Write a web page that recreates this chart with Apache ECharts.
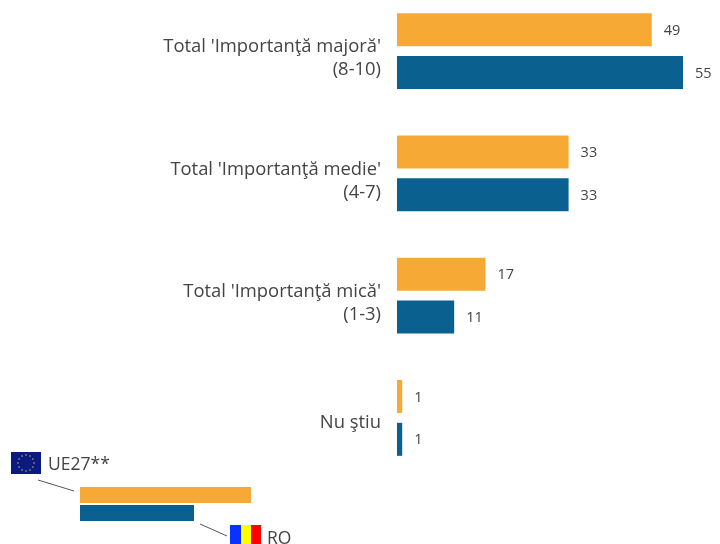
<!DOCTYPE html>
<html><head><meta charset="utf-8">
<style>html,body{margin:0;padding:0;background:#fff;overflow:hidden;width:720px;height:544px}#c{position:absolute;left:0;top:-20px;width:720px;height:564px}</style>
<script src="https://cdn.jsdelivr.net/npm/echarts@6/dist/echarts.min.js"></script>
</head><body><div id="c"></div>
<script>
const categories = ["Total 'Importanţă majoră'\n(8-10)", "Total 'Importanţă medie'\n(4-7)", "Total 'Importanţă mică'\n(1-3)", "Nu ştiu"];
const ue27 = [49, 33, 17, 1];
const ro = [55, 33, 11, 1];
const seriesNames = ["UE27**", "RO"];
const ORANGE = '#F7A935', BLUE = '#0A6190', TXT = '#444444', FONT = '"Open Sans", sans-serif';

const chart = echarts.init(document.getElementById('c'), null, {renderer:'canvas'});
const stars = [];
for (let i = 0; i < 12; i++) {
  const a = i * Math.PI / 6;
  stars.push({type:'circle', shape:{cx:26 + 8*Math.cos(a), cy:463 + 8*Math.sin(a), r:0.8}, style:{fill:'#C8B84A'}});
}
const mkLabel = {show:true, position:'right', distance:12, color:TXT, fontFamily:FONT, fontSize:14.5, offset:[0,1]};
const labelBase = {color:TXT, fontFamily:FONT, fontSize:18.4, align:'right'};
chart.setOption({
  animation:false,
  grid:{left:397, top:10, width:312, height:489, containLabel:false},
  xAxis:{type:'value', min:0, max:60, show:false},
  yAxis:{type:'category', inverse:true, data:categories,
    axisLine:{show:false}, axisTick:{show:false},
    axisLabel:{margin:16, align:'right', color:TXT, fontFamily:FONT, fontSize:18.4,
      formatter:v => {
        const ls = v.split('\n');
        return ls.length > 1 ? '{c|'+ls[0]+'}\n{b|'+ls[1]+'}' : '{a|'+ls[0]+'}';
      },
      rich:{
        a:Object.assign({padding:[10,0,0,0],lineHeight:23},labelBase),
        b:Object.assign({lineHeight:8},labelBase),
        c:Object.assign({lineHeight:38},labelBase)
      }}},
  series:[
    {name:seriesNames[0], type:'bar', data:ue27, barWidth:33, barGap:'30%', itemStyle:{color:ORANGE}, label:mkLabel},
    {name:seriesNames[1], type:'bar', data:ro, barWidth:33, itemStyle:{color:BLUE}, label:mkLabel}
  ],
  graphic:[{type:'group', x:0, y:20, children:[
    {type:'rect', shape:{x:80,y:487,width:171,height:16}, style:{fill:ORANGE}},
    {type:'rect', shape:{x:80,y:505,width:114,height:16}, style:{fill:BLUE}},
    {type:'rect', shape:{x:11,y:452,width:30,height:22}, style:{fill:'#0A1A80'}},
    ...stars,
    {type:'text', x:48, y:456, style:{text:seriesNames[0], fill:TXT, font:'17.5px '+FONT}},
    {type:'line', shape:{x1:38,y1:480,x2:74,y2:491}, style:{stroke:'#555',lineWidth:1}},
    {type:'line', shape:{x1:200,y1:524,x2:227,y2:536}, style:{stroke:'#555',lineWidth:1}},
    {type:'rect', shape:{x:230,y:525,width:11,height:19}, style:{fill:'#0A32FF'}},
    {type:'rect', shape:{x:241,y:525,width:10,height:19}, style:{fill:'#FFFF00'}},
    {type:'rect', shape:{x:251,y:525,width:10,height:19}, style:{fill:'#FF0000'}},
    {type:'text', x:267, y:530, style:{text:seriesNames[1], fill:TXT, font:'17.5px '+FONT}}
  ]}]
});
</script></body></html>
